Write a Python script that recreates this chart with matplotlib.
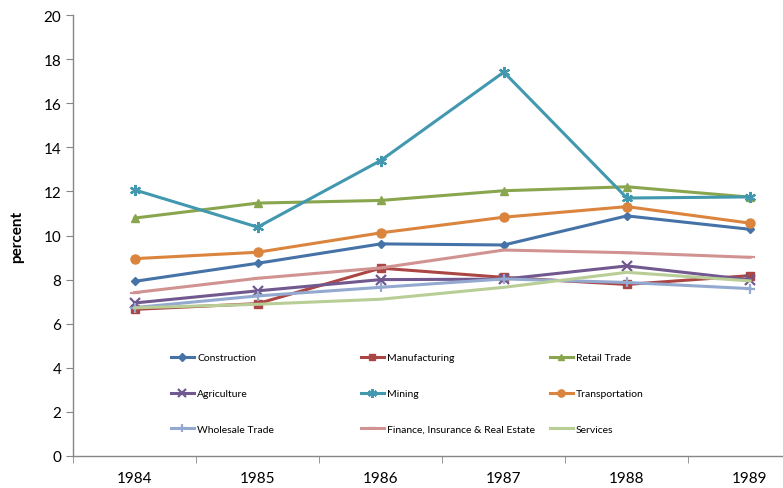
import matplotlib
matplotlib.use('Agg')
import matplotlib.pyplot as plt
import numpy as np

plt.rcParams['font.family'] = ['Lato', 'DejaVu Sans']

# Datos
anios = ['1984', '1985', '1986', '1987', '1988', '1989']
construction = [7.92, 8.74, 9.62, 9.57, 10.89, 10.28]
manufacturing = [6.65, 6.91, 8.52, 8.10, 7.78, 8.18]
retail_trade = [10.79, 11.47, 11.59, 12.03, 12.21, 11.74]
agriculture = [6.94, 7.49, 8.00, 8.02, 8.62, 7.99]
mining = [12.07, 10.38, 13.40, 17.41, 11.70, 11.75]
transportation = [8.95, 9.24, 10.12, 10.83, 11.31, 10.56]
wholesale_trade = [6.73, 7.26, 7.65, 8.03, 7.87, 7.59]
finance = [7.41, 8.06, 8.53, 9.34, 9.22, 9.01]
services = [6.72, 6.88, 7.11, 7.65, 8.33, 7.94]

# (etiqueta, valores, color, marcador, tamaño)
series = [
    ('Construction', construction, '#4572A7', 'D', 4.5),
    ('Manufacturing', manufacturing, '#AA4643', 's', 6),
    ('Retail Trade', retail_trade, '#89A54E', '^', 6),
    ('Agriculture', agriculture, '#71588F', 'x', 7),
    ('Mining', mining, '#4198AF', (6, 2, 0), 8),
    ('Transportation', transportation, '#DB843D', 'o', 6.5),
    ('Wholesale Trade', wholesale_trade, '#93A9CF', '+', 7),
    ('Finance, Insurance & Real Estate', finance, '#D19392', '_', 7),
    ('Services', services, '#B9CD96', '', 0),
]

fig = plt.figure(figsize=(7.83, 4.89), dpi=100)
ax = fig.add_axes([73 / 783, 1 - 457 / 489, 1 - 73 / 783, (457 - 16) / 489])

x = np.arange(len(anios))
lineas = {}
for nombre, valores, color, marcador, ms in series:
    mew = 1.6 if marcador in ('x', '+', '_', (6, 2, 0)) else 1
    l, = ax.plot(x, valores, color=color, linewidth=2.2, marker=marcador,
                 markersize=ms, markeredgewidth=mew, markeredgecolor=color,
                 label=nombre)
    lineas[nombre] = l

ax.set_xlim(-0.5, (783 - 135) / 123)
ax.set_ylim(0, 20)
ax.set_yticks(range(0, 21, 2))
ax.set_xticks(x)
ax.set_xticklabels(anios)
ax.set_xticks(np.arange(-0.5, 5.0, 1.0), minor=True)
ax.tick_params(axis='x', which='major', length=0, labelsize=11, pad=11)
ax.tick_params(axis='x', which='minor', length=5, color='#868686', direction='out')
ax.tick_params(axis='y', length=5, color='#868686', labelsize=11)
for s in ['top', 'right']:
    ax.spines[s].set_visible(False)
for s in ['left', 'bottom']:
    ax.spines[s].set_color('#868686')
    ax.spines[s].set_linewidth(1)

fig.text(17 / 783, 1 - 237 / 489, 'percent', rotation=90, fontsize=11,
         fontweight='bold', ha='center', va='center')

# Leyenda en tres columnas de igual ancho
columnas = [
    ['Construction', 'Agriculture', 'Wholesale Trade'],
    ['Manufacturing', 'Mining', 'Finance, Insurance & Real Estate'],
    ['Retail Trade', 'Transportation', 'Services'],
]
posiciones_x = [171 / 783, 361 / 783, 550 / 783]
for nombres, px in zip(columnas, posiciones_x):
    leg = fig.legend([lineas[n] for n in nombres], nombres, loc='center left',
                     bbox_to_anchor=(px, 1 - 394.5 / 489), frameon=False,
                     fontsize=7.5, handlelength=2.2, handletextpad=0.3,
                     labelspacing=2.55, borderpad=0, borderaxespad=0,
                     markerscale=0.8)

fig.savefig('out.png', dpi=100)
